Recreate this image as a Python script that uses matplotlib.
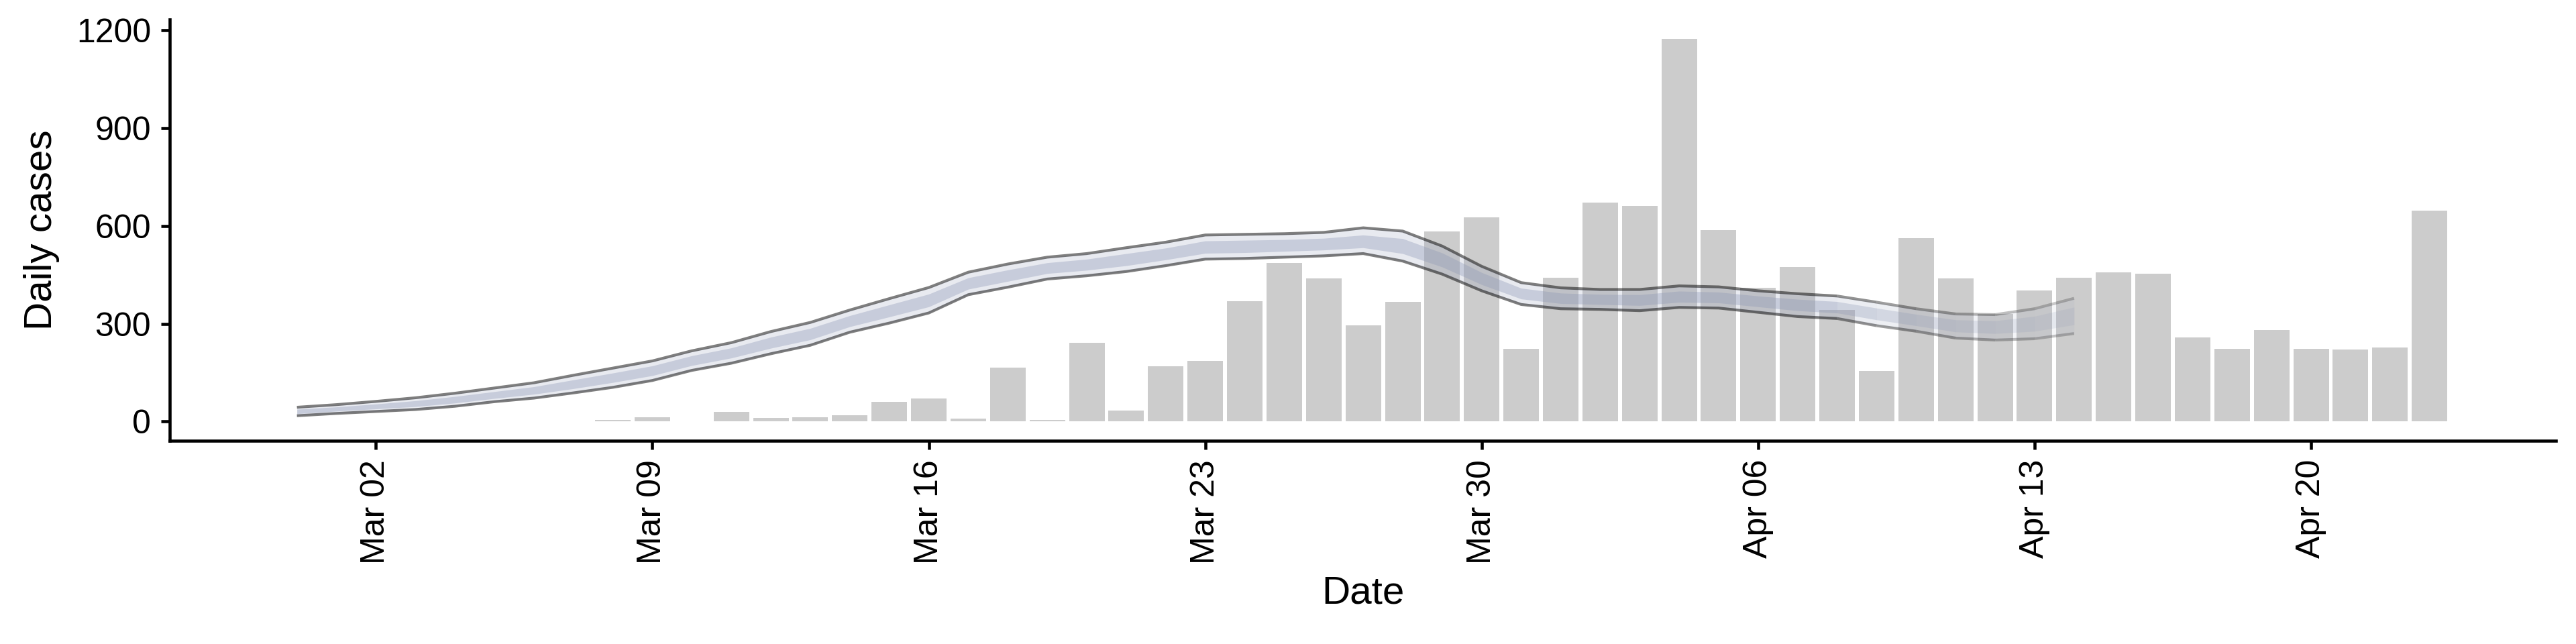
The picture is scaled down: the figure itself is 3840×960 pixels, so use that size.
import numpy as np
import pandas as pd
import matplotlib
matplotlib.use("Agg")
import matplotlib.pyplot as plt
import matplotlib.dates as mdates

plt.rcParams['font.family'] = ['Liberation Sans', 'DejaVu Sans']

# ---------------- data ----------------
bar_dates = pd.date_range('2020-02-29', '2020-04-23', freq='D')
daily_cases = [2, 0, 1, 0, 0, 2, 1, 1, 5, 14,
               0, 29, 12, 14, 20, 61, 71, 9, 165, 5,
               242, 34, 170, 187, 370, 487, 438, 295, 368, 582,
               627, 223, 441, 672, 661, 1174, 588, 411, 473, 343,
               155, 562, 438, 330, 402, 440, 458, 454, 257, 223,
               281, 223, 222, 227, 647]

band_dates = pd.date_range('2020-02-29', '2020-04-14', freq='D')
outer_hi = [44, 52, 62, 73, 87, 103, 119, 142, 164, 186,
            217, 242, 276, 304, 342, 377, 411, 458, 483, 504,
            515, 533, 550, 572, 574, 576, 580, 594, 584, 538,
            476, 426, 410, 405, 405, 416, 413, 401, 392, 385,
            366, 346, 330, 328, 346, 378]
outer_lo = [18, 25, 31, 37, 47, 61, 72, 88, 105, 126,
            157, 179, 208, 234, 274, 302, 333, 389, 412, 437,
            447, 460, 478, 498, 500, 504, 508, 515, 492, 452,
            401, 359, 346, 344, 340, 350, 348, 335, 322, 316,
            294, 277, 256, 250, 254, 270]
inner_hi = [38, 45, 54, 64, 77, 92, 107, 128, 149, 171,
            202, 226, 259, 286, 325, 358, 391, 441, 465, 487,
            498, 515, 532, 554, 556, 558, 562, 572, 561, 517,
            457, 409, 394, 390, 389, 400, 397, 385, 375, 368,
            348, 329, 312, 309, 323, 351]
inner_lo = [24, 32, 39, 46, 57, 71, 84, 101, 120, 141,
            172, 195, 225, 251, 291, 321, 352, 406, 430, 454,
            464, 478, 496, 516, 518, 522, 526, 533, 515, 474,
            420, 376, 362, 359, 356, 366, 364, 352, 340, 333,
            312, 294, 275, 270, 277, 297]

# opacity of the most recent (less certain) estimate segments
recent_fade = [0.85, 0.75, 0.66, 0.58, 0.50, 0.42]

x_ticks = pd.date_range('2020-03-02', '2020-04-20', freq='7D')
y_ticks = [0, 300, 600, 900, 1200]

# ---------------- figure ----------------
fig = plt.figure(figsize=(12.8, 3.2), dpi=300)
ax = fig.add_axes([0.0659, 0.3156, 0.9263, 0.6542])

xb = mdates.date2num(bar_dates)
ax.bar(xb, daily_cases, width=0.9, color='#cccccc', linewidth=0, zorder=1)

xr = mdates.date2num(band_dates)
ohi = np.array(outer_hi, float)
olo = np.array(outer_lo, float)
ihi = np.array(inner_hi, float)
ilo = np.array(inner_lo, float)

band_col = '#8c96b4'
n_full = len(xr) - len(recent_fade)   # index of last fully opaque point

def draw(sl, f):
    ax.fill_between(xr[sl], olo[sl], ohi[sl], color=band_col, alpha=0.2 * f,
                    linewidth=0, zorder=2)
    ax.fill_between(xr[sl], ilo[sl], ihi[sl], color=band_col, alpha=0.35 * f,
                    linewidth=0, zorder=3)
    for arr in (ohi, olo):
        ax.plot(xr[sl], arr[sl], color='black', alpha=0.5 * f, lw=1.0,
                solid_capstyle='butt', solid_joinstyle='round', zorder=4)

draw(slice(0, n_full), 1.0)
for k, f in enumerate(recent_fade):
    i = n_full - 1 + k
    draw(slice(i, i + 2), f)

# axes styling
ax.set_xlim(mdates.date2num(pd.Timestamp('2020-02-29')) - 3.22,
            mdates.date2num(pd.Timestamp('2020-04-23')) + 3.2)
ax.set_ylim(-58.7, 1232.7)
ax.set_xticks(mdates.date2num(x_ticks))
ax.set_xticklabels([d.strftime('%b %d') for d in x_ticks], rotation=90)
ax.set_yticks(y_ticks)
ax.set_yticklabels([str(v) for v in y_ticks])

for s in ('top', 'right'):
    ax.spines[s].set_visible(False)
for s in ('left', 'bottom'):
    ax.spines[s].set_linewidth(1.1)
ax.tick_params(axis='both', length=3.2, width=1.1, labelsize=12,
               colors='black', pad=3.5)
ax.set_xlabel('Date', fontsize=14, labelpad=4)
ax.set_ylabel('Daily cases', fontsize=14, labelpad=6)

fig.savefig('out.png', dpi=300, facecolor='white')
